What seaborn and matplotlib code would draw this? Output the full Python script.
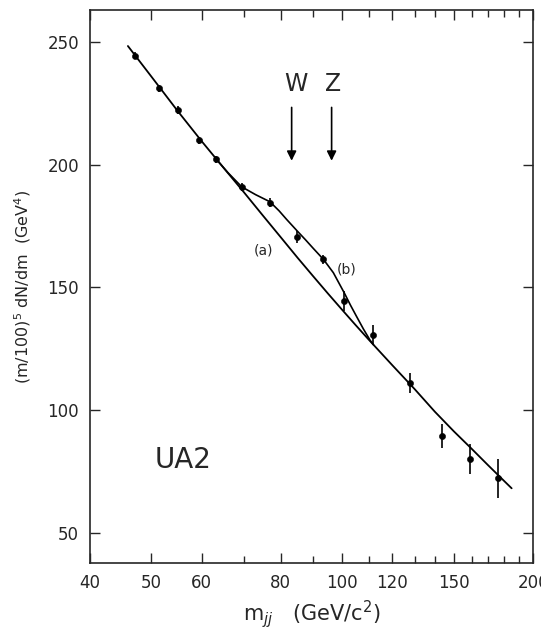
import matplotlib
matplotlib.use("Agg")
import matplotlib.pyplot as plt
from matplotlib.ticker import FixedLocator, NullFormatter
import seaborn as sns
import pandas as pd

mass = [47.1, 51.3, 55.1, 59.4, 63.2, 69.4, 76.9, 84.9, 93.4, 100.8, 112.0, 127.9, 143.6, 159.1, 176.3]
yields = [244.5, 231.1, 222.3, 210.0, 202.2, 191.0, 184.6, 170.6, 161.4, 144.5, 130.6, 110.9, 89.5, 80.0, 72.2]
errors = [1.5, 1.5, 1.5, 1.5, 1.5, 1.5, 2.0, 2.5, 2.0, 4.0, 4.0, 4.0, 5.0, 6.0, 8.0]

# curve (a): background only
mass_a = [45.9, 50, 55, 60, 65, 70, 75, 80, 85, 90, 95, 100, 105, 110, 120, 130, 140, 150, 160, 170, 180, 185]
yield_a = [248.4, 235.9, 221.9, 209.6, 198.7, 188.7, 179.2, 170.4, 162.1, 154.5, 147.4, 140.8,
           134.6, 128.8, 118.2, 108.6, 99.3, 91.3, 84.2, 77.4, 71.1, 68.1]

# curve (b): background + W, Z signal, only where it leaves curve (a)
mass_b = [63.2, 66.0, 69.4, 73.0, 76.9, 79.5, 81.7, 84.9, 87.5, 90.0, 93.4, 96.8, 100.8,
          103.0, 105.4, 108.0, 110.6, 112.0]
yield_b = [202.4, 196.8, 191.0, 187.8, 184.9, 181.2, 177.7, 173.0, 169.4, 165.9, 161.4, 156.0, 147.6,
           142.8, 138.0, 133.0, 128.5, 126.6]

xticks = [40, 50, 60, 80, 100, 120, 150, 200]
xminor = [70, 90, 110, 130, 140, 160, 170, 180, 190]
yticks = [50, 100, 150, 200, 250]

pts = pd.DataFrame({"m": mass, "y": yields, "err": errors})
curve_a = pd.DataFrame({"m": mass_a, "y": yield_a})
curve_b = pd.DataFrame({"m": mass_b, "y": yield_b})

sns.set_style("ticks")
plt.rcParams["font.family"] = ["DejaVu Sans"]

fig = plt.figure(figsize=(5.41, 6.38), dpi=100)
ax = fig.add_axes([0.1664, 0.117, 0.819, 0.867])

sns.lineplot(data=curve_a, x="m", y="y", color="black", lw=1.3, ax=ax, sort=False)
sns.lineplot(data=curve_b, x="m", y="y", color="black", lw=1.2, ax=ax, sort=False)
ax.errorbar(pts.m, pts.y, yerr=pts.err, fmt="none", ecolor="black", elinewidth=1.2)
sns.scatterplot(data=pts, x="m", y="y", color="black", s=20, edgecolor="black", ax=ax, zorder=5)

ax.set_xscale("log")
ax.set_xlim(40, 200)
ax.set_ylim(37.5, 263)

ax.xaxis.set_major_locator(FixedLocator(xticks))
ax.xaxis.set_minor_locator(FixedLocator(xminor))
ax.xaxis.set_minor_formatter(NullFormatter())
ax.set_xticklabels([str(t) for t in xticks])
ax.set_yticks(yticks)

ax.tick_params(which="major", direction="in", length=7, width=1, top=True, right=True,
               labelsize=12, pad=8)
ax.tick_params(which="minor", direction="in", length=5, width=1, top=True)
for s in ax.spines.values():
    s.set_linewidth(1.2)

ax.set_xlabel(r"m$_{jj}$   (GeV/c$^2$)", fontsize=15, labelpad=4)
ax.set_ylabel(r"(m/100)$^5$ dN/dm  (GeV$^4$)", fontsize=11.5, labelpad=10)

# W and Z arrows
for lab, xm, xl in [("W", 83.2, 84.6), ("Z", 96.2, 96.6)]:
    ax.annotate("", xy=(xm, 200.5), xytext=(xm, 224.5),
                arrowprops=dict(arrowstyle="-|>", color="black", lw=1.2, mutation_scale=14))
    ax.text(xl, 233.0, lab, ha="center", va="center", fontsize=17)

ax.text(75.1, 165.2, "(a)", ha="center", va="center", fontsize=10)
ax.text(101.6, 157.1, "(b)", ha="center", va="center", fontsize=10)
ax.text(56.0, 79.8, "UA2", ha="center", va="center", fontsize=20)

fig.savefig("out.png", dpi=100)
